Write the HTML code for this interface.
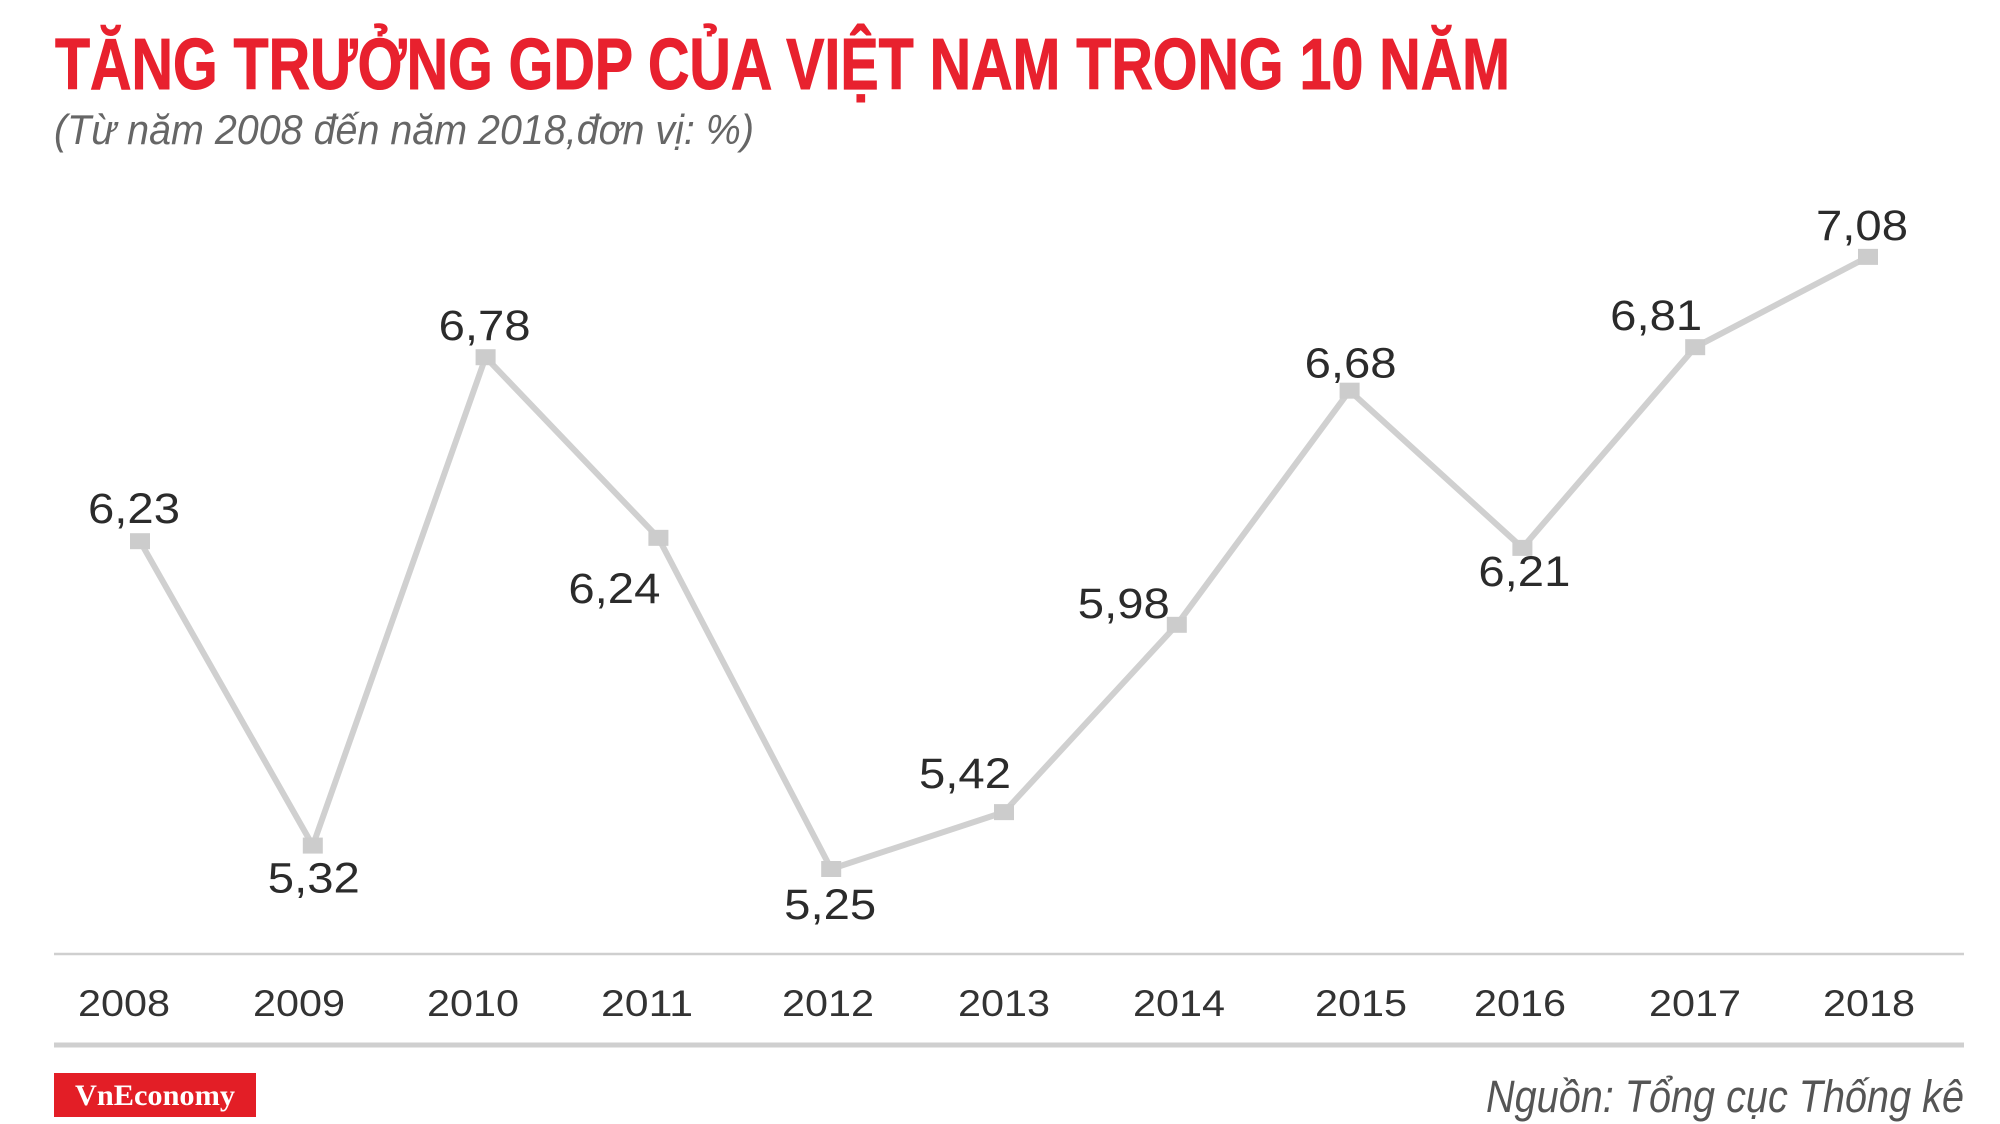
<!DOCTYPE html>
<html><head><meta charset="utf-8">
<style>
html,body{margin:0;padding:0;background:#fff;}
svg{display:block;}
</style></head>
<body>
<svg id="chart" width="2000" height="1124" viewBox="0 0 2000 1124" xmlns="http://www.w3.org/2000/svg">
  <rect x="0" y="0" width="2000" height="1124" fill="#fff"/>
  <text x="55" y="89" font-family="Liberation Sans, sans-serif" font-weight="bold" font-size="72" fill="#e8212e" stroke="#e8212e" stroke-width="1" textLength="1455" lengthAdjust="spacingAndGlyphs">TĂNG TRƯỞNG GDP CỦA VIỆT NAM TRONG 10 NĂM</text>
  <text x="54" y="144" font-family="Liberation Sans, sans-serif" font-style="italic" font-size="42" fill="#666" textLength="700" lengthAdjust="spacingAndGlyphs">(Từ năm 2008 đến năm 2018,đơn vị: %)</text>
  <line x1="54" y1="954" x2="1964" y2="954" stroke="#cfcfcf" stroke-width="2.5"/>
  <line x1="54" y1="1045" x2="1964" y2="1045" stroke="#cfcfcf" stroke-width="5"/>
  <g id="series"></g>
  <g id="xlabels"></g>
  <rect x="54" y="1073" width="202" height="44" fill="#e31e26"/>
  <text x="155" y="1105" text-anchor="middle" font-family="Liberation Serif, serif" font-weight="bold" font-size="30" fill="#fff" textLength="160" lengthAdjust="spacingAndGlyphs">VnEconomy</text>
  <text x="1964" y="1112" text-anchor="end" font-family="Liberation Sans, sans-serif" font-style="italic" font-size="45" fill="#555" textLength="478" lengthAdjust="spacingAndGlyphs">Nguồn: Tổng cục Thống kê</text>
</svg>
<script>
const years = ["2008","2009","2010","2011","2012","2013","2014","2015","2016","2017","2018"];
const gdpValues = [6.23, 5.32, 6.78, 6.24, 5.25, 5.42, 5.98, 6.68, 6.21, 6.81, 7.08];
const valueLabels = ["6,23","5,32","6,78","6,24","5,25","5,42","5,98","6,68","6,21","6,81","7,08"];
const labelDx = [-6, 1, -1, -44, -1, -39, -53, 1, 2, -39, -6];
const labelDy = [-18, 47, -17, 65, 50, -24, -7, -13, 38, -17, -17];
const yearLabelX = [124,299,473,647,828,1004,1179,1361,1520,1695,1869];

const NS = "http://www.w3.org/2000/svg";
function xScale(i){ return 140 + i*172.8; }
function yScale(v){ return 869 - (v-5.25)*334.5; }

const series = document.getElementById('series');
const pts = gdpValues.map((v,i)=>xScale(i)+','+yScale(v)).join(' ');
const line = document.createElementNS(NS,'polyline');


line.setAttribute('points', pts);
line.setAttribute('fill','none');
line.setAttribute('stroke','#d0d0d0');
line.setAttribute('stroke-width','6');
line.setAttribute('stroke-linejoin','round');
series.appendChild(line);

gdpValues.forEach((v,i)=>{
  const x = xScale(i), y = yScale(v);
  const m = document.createElementNS(NS,'rect');
  
  
  m.setAttribute('x', x-10); m.setAttribute('y', y-8);
  m.setAttribute('width', 20); m.setAttribute('height', 16);
  m.setAttribute('fill','#cccccc');
  series.appendChild(m);
  const t = document.createElementNS(NS,'text');
  
  
  t.setAttribute('x', x+labelDx[i]); t.setAttribute('y', y+labelDy[i]);
  t.setAttribute('text-anchor','middle');
  t.setAttribute('font-family','Liberation Sans, sans-serif');
  t.setAttribute('font-size','43');
  t.setAttribute('fill','#2b2b2b');
  t.setAttribute('textLength','92');
  t.setAttribute('lengthAdjust','spacingAndGlyphs');
  t.textContent = valueLabels[i];
  series.appendChild(t);
});

const xl = document.getElementById('xlabels');
years.forEach((yr,i)=>{
  const t = document.createElementNS(NS,'text');
  
  
  t.setAttribute('x', yearLabelX[i]); t.setAttribute('y', 1016);
  t.setAttribute('text-anchor','middle');
  t.setAttribute('font-family','Liberation Sans, sans-serif');
  t.setAttribute('font-size','37');
  t.setAttribute('fill','#333');
  t.setAttribute('textLength','92');
  t.setAttribute('lengthAdjust','spacingAndGlyphs');
  t.textContent = yr;
  xl.appendChild(t);
});
</script>
</body></html>
